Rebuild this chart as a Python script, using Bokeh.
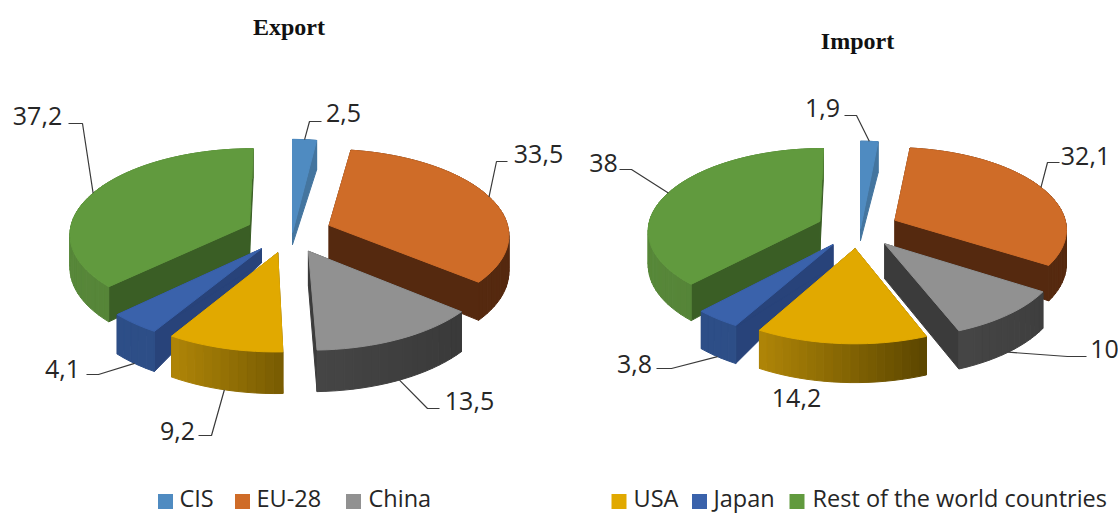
import numpy as np
from bokeh.plotting import figure
from bokeh.models import Range1d, ColumnDataSource
from bokeh.core.properties import value
from bokeh.embed import file_html
from bokeh.resources import INLINE

# ---------- data ----------
categories = ["CIS", "EU-28", "China", "USA", "Japan", "Rest of the world countries"]
export_values = [2.5, 33.5, 13.5, 9.2, 4.1, 37.2]
import_values = [1.9, 32.1, 10, 14.2, 3.8, 38]
export_labels = ["2,5", "33,5", "13,5", "9,2", "4,1", "37,2"]
import_labels = ["1,9", "32,1", "10", "14,2", "3,8", "38"]

# ---------- style ----------
TOP = ["#4f8bc1", "#cf6c28", "#919191", "#e1a900", "#3a62ab", "#619a3e"]
SIDE = ["#44759f", "#55290f", "#3b3b3b", "#7a5c00", "#28437a", "#3a5e25"]
RIM_L = ["#44759f", "#55290f", "#464646", "#b08608", "#2d4e87", "#58883a"]
RIM_R = ["#44759f", "#55290f", "#383838", "#5a4500", "#2d4e87", "#4f7c34"]
LABEL_COL = "#262626"
FONT = "Open Sans"

# ---------- layout (pixels on the page picture) ----------
PAINT = [0, 5, 1, 4, 2, 3]
K = 0.10
EXPL = [0.0, 0.24, 0.24, 0.24, 0.24, 0.24]
RAD_X = [0.96, 1, 1, 1, 1, 1]
EXPORT_GEOM = dict(cx=288.5, cy=232.0, R=180.0, A=85.0, cis_dx=3.5,
                   rad_y=[1.23, 1, 1, 1, 1, 1],
                   h_apex=[12, 34, 35, 40, 14, 30], h_rim=[33, 36, 36.5, 36.5, 36, 33])
IMPORT_GEOM = dict(cx=857.5, cy=228.0, R=172.0, A=81.5, cis_dx=2.5,
                   rad_y=[1.2, 1, 1, 1, 1, 1],
                   h_apex=[12, 27, 35, 35, 22, 29], h_rim=[35, 34, 34, 34, 34, 34])
# elbow point, stub end, label centre; order as categories
EXPORT_LEAD = [((309, 121), (321, 121), (343, 112)), ((496, 161), (507, 161), (538, 153)),
               ((427, 408), (439, 408), (469, 400)), ((211, 435), (198, 435), (177, 430)),
               ((98, 374), (86, 374), (62, 368)), ((82, 123), (68, 123), (37, 115))]
IMPORT_LEAD = [((856, 115), (844, 115), (822, 107)), ((1047, 162), (1059, 162), (1085, 155)),
               ((1067, 356), (1086, 356), (1104, 348)), (None, None, (796, 397)),
               ((671, 368), (656, 368), (634, 363)), ((631, 169), (619, 169), (603, 162))]
TITLES = [("Export", 288.5, 26), ("Import", 857, 40)]
LEG_ITEMS = [0, 1, 2, 3, 4, 5]
LEG_SQ = [165, 242, 353, 618.5, 699, 796.5]
LEG_TX = [179, 256, 368, 633, 713, 812]
LEG_SQ_Y = 501
LEG_TX_Y = 497.5


def project(g, X, Y):
    s = 1.0 / (1.0 + K * Y)
    return g["cx"] + g["R"] * X * s, g["cy"] - g["A"] * Y * s, s


def pie(values, g, lead, labels):
    polys = []
    total = sum(values)
    start = 0.0
    leaders, ltxt = [], []
    info = []
    for i, v in enumerate(values):
        sweep = 360.0 * v / total
        info.append((start, start + sweep))
        start += sweep

    def pt(i, theta_deg, rho):
        t0, t1 = info[i]
        mid = np.radians((t0 + t1) / 2)
        th = np.radians(theta_deg)
        X = EXPL[i] * np.sin(mid) + rho * RAD_X[i] * np.sin(th)
        Y = EXPL[i] * np.cos(mid) + rho * g["rad_y"][i] * np.cos(th)
        x, y, s = project(g, X, Y)
        if i == 0:
            x += g["cis_dx"]
        return x, y, s

    for i in PAINT:
        t0, t1 = info[i]
        ax, ay, _ = pt(i, t0, 0)
        ha = g["h_apex"][i]
        hr = g["h_rim"][i]
        # radial sides
        for t in (t0, t1):
            ex, ey, es = pt(i, t, 1)
            polys.append(([ax, ex, ex, ax], [ay, ey, ey + hr * es, ay + ha], SIDE[i]))
        # rim, cut in strips to give it its shading
        n = max(2, int((t1 - t0) / 2.5))
        ths = np.linspace(t0, t1, n + 1)
        pts = [pt(i, t, 1) for t in ths]
        xmin = min(p[0] for p in pts)
        c0 = np.array([int(RIM_L[i][j:j + 2], 16) for j in (1, 3, 5)])
        c1 = np.array([int(RIM_R[i][j:j + 2], 16) for j in (1, 3, 5)])
        for a, b in zip(pts[:-1], pts[1:]):
            f = min(1.0, ((a[0] + b[0]) / 2 - xmin) / 170.0)
            c = (c0 + (c1 - c0) * f).astype(int)
            polys.append(([a[0], b[0], b[0], a[0]],
                          [a[1], b[1], b[1] + hr * b[2], a[1] + hr * a[2]],
                          "#%02x%02x%02x" % tuple(int(q) for q in c)))
        # top face
        tx = [ax] + [p[0] for p in pts]
        ty = [ay] + [p[1] for p in pts]
        polys.append((tx, ty, TOP[i]))

    for i, (elbow, stub, lab) in enumerate(lead):
        t0, t1 = info[i]
        mid = (t0 + t1) / 2
        x, y, s = pt(i, mid, 1)
        if np.cos(np.radians(mid)) < 0:
            y += g["h_rim"][i] * s
        if elbow is not None:
            leaders.append(([x, elbow[0], stub[0]], [y, elbow[1], stub[1]]))
        ltxt.append((lab[0], lab[1], labels[i]))
    return polys, leaders, ltxt


p = figure(width=1118, height=514, x_range=Range1d(0, 1118), y_range=Range1d(514, 0),
           output_backend="svg", toolbar_location=None, min_border=0,
           outline_line_color=None, background_fill_color="white")
p.axis.visible = False
p.grid.visible = False

for vals, geom, lead, labs in ((export_values, EXPORT_GEOM, EXPORT_LEAD, export_labels),
                               (import_values, IMPORT_GEOM, IMPORT_LEAD, import_labels)):
    polys, leaders, ltxt = pie(vals, geom, lead, labs)
    src = ColumnDataSource(dict(xs=[q[0] for q in polys], ys=[q[1] for q in polys], c=[q[2] for q in polys]))
    p.patches("xs", "ys", source=src, fill_color="c", line_color="c", line_width=1.0)
    p.multi_line([l[0] for l in leaders], [l[1] for l in leaders], line_color="#3a3a3a", line_width=1.2)
    p.text([t[0] for t in ltxt], [t[1] for t in ltxt], [t[2] for t in ltxt],
           text_font=value(FONT), text_font_size="25px", text_color=LABEL_COL,
           text_align="center", text_baseline="middle")

p.text([t[1] for t in TITLES], [t[2] for t in TITLES], [t[0] for t in TITLES],
       text_font=value("Liberation Serif"), text_font_style="bold", text_font_size="24px",
       text_color="#111111", text_align="center", text_baseline="middle")

p.rect(LEG_SQ, [LEG_SQ_Y] * 6, width=15, height=15, fill_color=[TOP[i] for i in LEG_ITEMS], line_color=None)
p.text(LEG_TX, [LEG_TX_Y] * 6, [categories[i] for i in LEG_ITEMS], text_font=value(FONT),
       text_font_size="23.5px", text_color=LABEL_COL, text_align="left", text_baseline="middle")

open("out.html", "w").write(file_html(p, INLINE))
